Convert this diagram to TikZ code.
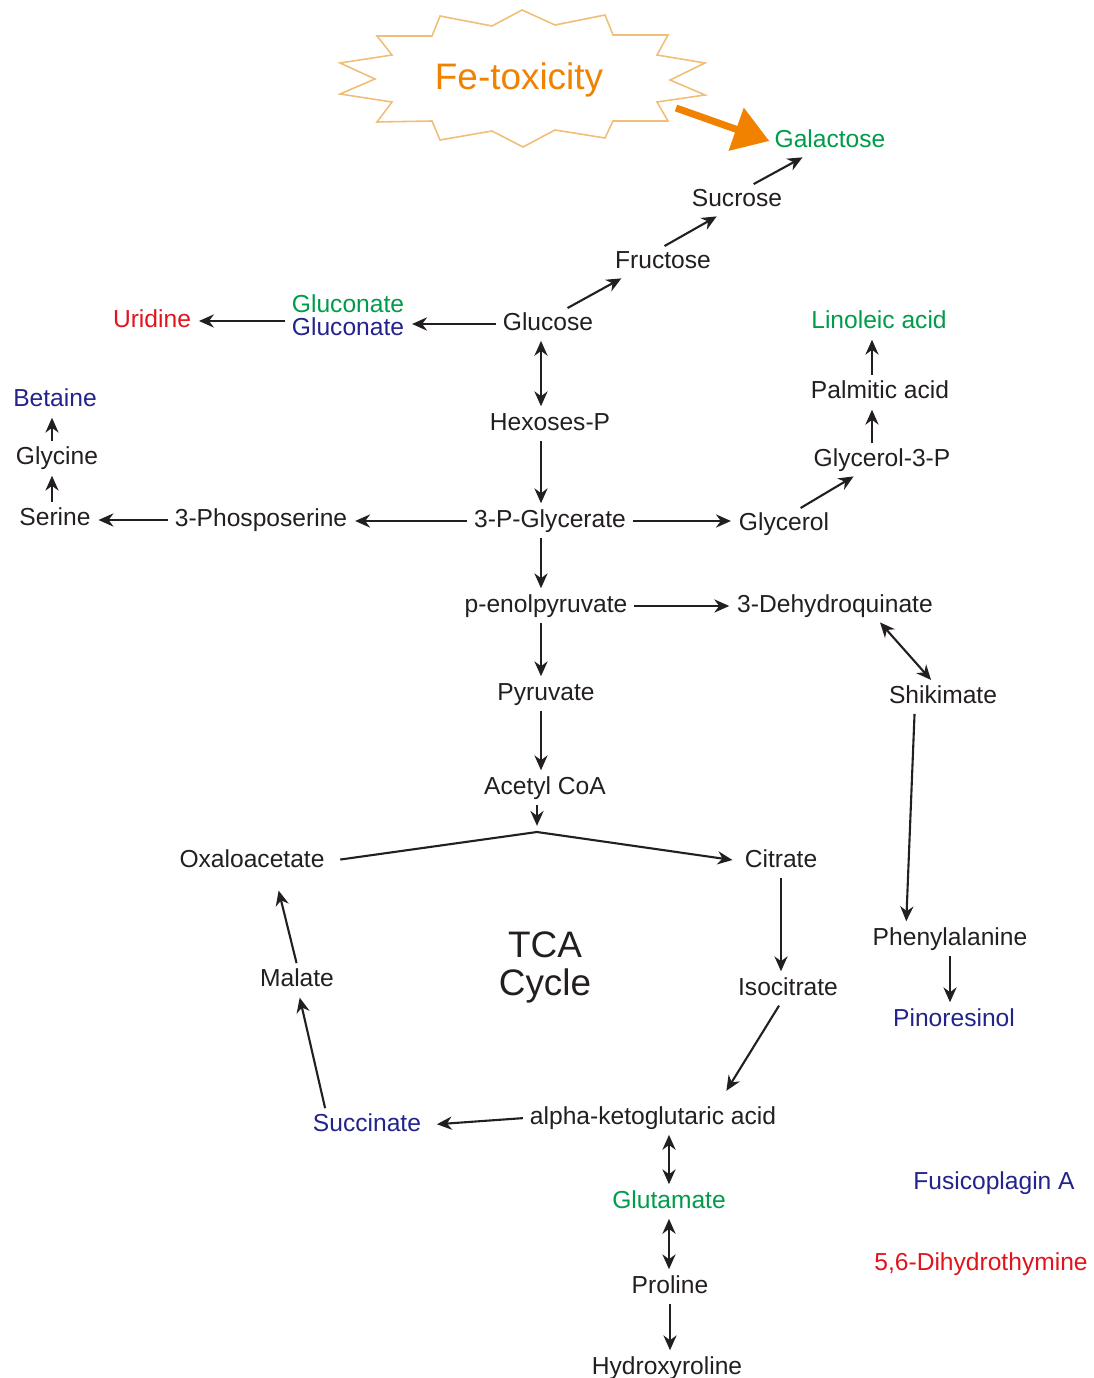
\documentclass[tikz,border=0pt]{standalone}
\usepackage{fontspec}
\setmainfont{Liberation Sans}
\usetikzlibrary{arrows.meta}

\definecolor{metblack}{RGB}{35,31,32}
\definecolor{metgreen}{RGB}{0,155,75}
\definecolor{metblue}{RGB}{35,35,140}
\definecolor{metred}{RGB}{225,20,30}
\definecolor{feorange}{RGB}{240,130,0}
\definecolor{burstline}{RGB}{240,190,120}

\tikzset{
  met/.style={font=\fontsize{14}{16}\selectfont, text=metblack, inner xsep=0.1cm,
    inner ysep=0.07cm, text height=0.35cm, text depth=0.1cm, yshift=-0.06cm},
  grn/.style={met, text=metgreen},
  blu/.style={met, text=metblue},
  rd/.style={met, text=metred},
  big/.style={font=\fontsize{21}{23}\selectfont, text=metblack, inner sep=0pt, yshift=-0.05cm},
  arr/.style={-{Stealth[length=8.5pt,width=7.5pt]}, line width=1.2pt, draw=metblack,
    shorten >=1.5pt, shorten <=1pt},
  dbl/.style={arr, {Stealth[length=8.5pt,width=7.5pt]}-{Stealth[length=8.5pt,width=7.5pt]}},
  fearr/.style={-{Triangle[length=20pt,width=25pt]}, line width=4pt, draw=feorange},
  burst/.style={draw=burstline, line width=0.9pt, line join=miter}
}

\begin{document}
\begin{tikzpicture}[x=0.02cm,y=-0.02cm]
\useasboundingbox (0,0) rectangle (1094,1378);

% Fe-toxicity
\draw[burst] (522,10) -- (555,25) -- (605,15) -- (613,35) -- (668,35) -- (657,55)
  -- (705,63) -- (670,80) -- (705,95) -- (657,102) -- (668,121) -- (613,121)
  -- (605,138) -- (555,130) -- (523,147) -- (492,131) -- (440,140) -- (432,121)
  -- (377,122) -- (392,102) -- (340,94) -- (375,79) -- (340,63) -- (392,55)
  -- (377,36) -- (432,36) -- (440,16) -- (492,26) -- cycle;
\node[big, text=feorange] (fe) at (519,77) {Fe-toxicity};
\coordinate (feout) at (676,108);

% column helpers
\coordinate (col) at (541,0);
\coordinate (sercol) at (52,0);
\coordinate (fatcol) at (872,0);
\coordinate (split) at (537,832);

% metabolites
\node[grn] (galactose) at (830,138) {Galactose};
\node[met] (sucrose) at (737,197) {Sucrose};
\node[met] (fructose) at (663,259) {Fructose};
\node[met] (glucose) at (548,321) {Glucose};
\node[grn] (glcg) at (348,303) {Gluconate};
\node[blu] (glcb) at (348,326) {Gluconate};
\node[rd] (uridine) at (152,318) {Uridine};
\node[grn] (linoleic) at (879,319) {Linoleic acid};
\node[met] (palmitic) at (880,389) {Palmitic acid};
\node[met] (g3p) at (882,457) {Glycerol-3-P};
\node[blu] (betaine) at (55,397) {Betaine};
\node[met] (glycine) at (57,455) {Glycine};
\node[met] (serine) at (55,516) {Serine};
\node[met] (hexp) at (550,421) {Hexoses-P};
\node[met] (phosser) at (261,517) {3-Phosposerine};
\node[met] (pga) at (550,518) {3-P-Glycerate};
\node[met] (glycerol) at (784,521) {Glycerol};
\node[met] (pep) at (546,603) {p-enolpyruvate};
\node[met] (dhq) at (835,603) {3-Dehydroquinate};
\node[met] (pyruvate) at (546,691) {Pyruvate};
\node[met] (shikimate) at (943,694) {Shikimate};
\node[met] (acoa) at (545,785) {Acetyl CoA};
\node[met] (oaa) at (252,858) {Oxaloacetate};
\node[met] (citrate) at (781,858) {Citrate};
\node[big] (tca) at (545,942) {TCA};
\node[big] (cycle) at (545,983) {Cycle};
\node[met] (malate) at (297,977) {Malate};
\node[met] (isocitrate) at (788,986) {Isocitrate};
\node[met] (phe) at (950,936) {Phenylalanine};
\node[blu] (pinoresinol) at (954,1017) {Pinoresinol};
\node[blu] (succinate) at (367,1122) {Succinate};
\node[met] (akg) at (653,1115) {alpha-ketoglutaric acid};
\node[blu] (fusico) at (994,1180) {Fusicoplagin A};
\node[grn] (glutamate) at (669,1199) {Glutamate};
\node[rd] (dht) at (981,1261) {5,6-Dihydrothymine};
\node[met] (proline) at (670,1284) {Proline};
\node[met] (hyp) at (667,1365) {Hydroxyroline};

% connectors
\draw[fearr] (feout) -- (galactose.west);
\draw[arr] (sucrose.45) -- (galactose.211);
\draw[arr] (fructose.north) -- (sucrose.220);
\draw[arr] (glucose.40) -- (fructose.201);
\draw[arr] (glucose.west) -- (glucose.west -| glcb.east);
\draw[arr] (glcb.west |- uridine) -- (uridine.east);
\draw[dbl] (glucose.south -| col) -- (hexp.north -| col);
\draw[arr] (hexp.south -| col) -- (pga.north -| col);
\draw[arr] (pga.west) -- (pga.west -| phosser.east);
\draw[arr] (phosser.west) -- (phosser.west -| serine.east);
\draw[arr] (serine.north -| sercol) -- (glycine.south -| sercol);
\draw[arr] (glycine.north -| sercol) -- (betaine.south -| sercol);
\draw[arr] (pga.east) -- (pga.east -| glycerol.west);
\draw[arr] (glycerol.45) -- (g3p.210);
\draw[arr] (g3p.north -| fatcol) -- (palmitic.south -| fatcol);
\draw[arr] (palmitic.north -| fatcol) -- (linoleic.south -| fatcol);
\draw[arr] (pga.south -| col) -- (pep.north -| col);
\draw[arr] (pep.east) -- (pep.east -| dhq.west);
\draw[dbl] (dhq.341) -- (shikimate.124);
\draw[arr] (shikimate.208) -- (phe.161);
\draw[arr] (phe.south) -- (phe.south |- pinoresinol.north);
\draw[arr] (pep.south -| col) -- (pyruvate.north -| col);
\draw[arr] (pyruvate.south -| col) -- (acoa.north -| col);
\draw[arr, shorten >=3.5pt] (acoa.south -| split) -- (split);
\draw[arr, shorten <=6pt, shorten >=4pt] (oaa.east) -- (split) -- (citrate.west);
\draw[arr] (citrate.south) -- (citrate.south |- isocitrate.north);
\draw[arr] (isocitrate.242) -- ([shift={(72,-25)}]akg.center);
\draw[arr, shorten >=6pt] (akg.west) -- (succinate.east);
\draw[arr] (succinate.160) -- (malate.278);
\draw[arr] (malate.north) -- ([shift={(26,27)}]oaa.center);
\draw[dbl] (akg.south -| glutamate) -- (glutamate.north);
\draw[dbl] (glutamate.south) -- (glutamate.south |- proline.north);
\draw[arr] (proline.south) -- (proline.south |- hyp.north);
\end{tikzpicture}
\end{document}
